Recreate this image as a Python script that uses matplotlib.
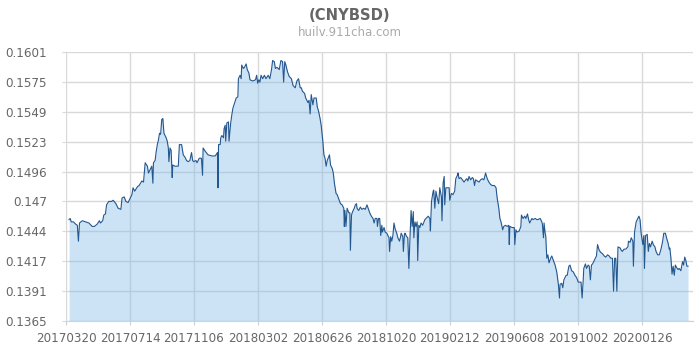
import numpy as np
import pandas as pd
import matplotlib
matplotlib.use('Agg')
import matplotlib.pyplot as plt

# day offsets from start date
start = '2017-03-20'
days = [5, 7, 9, 13, 17, 20, 22, 24, 29, 35, 41, 47, 51, 56, 60, 62, 66, 68, 71, 73,
        77, 82, 85, 90, 94, 99, 101, 105, 108, 112, 115, 119, 121, 124, 129, 132, 137, 140,
        143, 147, 149, 153, 155, 157, 158, 161, 163, 165, 167, 169, 171, 173, 175, 177,
        181, 183, 185, 186, 188, 190, 192, 193, 197, 203, 205, 209, 212, 215, 218, 221,
        224, 227, 229, 231, 235, 237, 241, 245, 247, 248, 252, 257, 264, 270, 274, 275,
        276, 279, 280, 282, 285, 286, 288, 289, 291, 294, 295, 298, 300, 302, 304, 308,
        311, 312, 315, 317, 318, 321, 323, 326, 328, 331, 333, 338, 343, 345, 347, 349,
        351, 353, 356, 359, 362, 366, 369, 372, 374, 377, 379, 382, 386, 389, 392, 394,
        396, 398, 401, 404, 408, 411, 415, 418, 421, 424, 426, 428, 432, 434, 438, 440,
        442, 444, 447, 449, 453, 455, 457, 460, 462, 465, 467, 469, 471, 473, 477, 479,
        482, 484, 486, 489, 491, 494, 497, 500, 503, 504, 505, 507, 509, 512, 514, 515,
        517, 519, 522, 524, 526, 527, 530, 533, 536, 539, 542, 545, 550, 553, 556, 558,
        560, 563, 564, 566, 568, 570, 572, 573, 576, 578, 581, 583, 585, 586, 588, 590,
        592, 594, 596, 599, 601, 604, 606, 607, 610, 611, 613, 614, 617, 619, 621, 623,
        625, 627, 629, 630, 632, 634, 636, 637, 639, 641, 643, 646, 650, 652, 656, 659,
        660, 662, 665, 666, 668, 670, 672, 675, 677, 680, 681, 683, 685, 686, 688, 694,
        695, 698, 701, 704, 706, 709, 710, 712, 715, 718, 721, 724, 726, 728, 730, 733,
        736, 738, 740, 742, 745, 748, 751, 754, 757, 760, 763, 766, 769, 772, 776, 779,
        781, 784, 786, 788, 791, 793, 796, 799, 802, 803, 804, 808, 812, 813, 815, 817,
        821, 824, 825, 828, 831, 833, 836, 838, 840, 844, 846, 850, 853, 855, 859, 862,
        863, 865, 866, 868, 869, 871, 873, 875, 878, 880, 883, 886, 889, 892, 894, 895,
        898, 900, 902, 906, 908, 911, 913, 916, 919, 922, 925, 928, 933, 935, 937, 938,
        941, 943, 946, 948, 950, 952, 954, 956, 959, 961, 963, 966, 969, 972, 975, 978,
        981, 984, 987, 990, 992, 994, 996, 998, 1000, 1004, 1006, 1008, 1011, 1014, 1018,
        1019, 1022, 1024, 1027, 1028, 1030, 1033, 1035, 1038, 1040, 1042, 1045, 1047,
        1048, 1050, 1053, 1055, 1057, 1059, 1062, 1064, 1067, 1069, 1072, 1075, 1078,
        1081, 1083, 1086, 1088, 1091, 1093, 1094, 1096, 1098, 1100, 1102, 1104, 1106,
        1109, 1111, 1114, 1117, 1119, 1121, 1123, 1125, 1127]

rates = [.1454, .1455, .1452, .1452, .1450, .1449, .1435, .1451, .1453, .1452, .1451, .1448,
         .1448, .1450, .1453, .1451, .1453, .1458, .1459, .1467, .1470, .1470, .1471, .1468,
         .1464, .1463, .1473, .1474, .1470, .1469, .1472, .1476, .1482, .1479, .1483, .1484,
         .1488, .1487, .1504, .1501, .1495, .1499, .1501, .1486, .1504, .1506, .1514, .1520,
         .1524, .1530, .1529, .1542, .1543, .1530, .1526, .1523, .1517, .1505, .1517, .1515,
         .1491, .1502, .1501, .1501, .1520, .1520, .1511, .1509, .1506, .1505, .1506, .1513,
         .1506, .1505, .1506, .1504, .1508, .1508, .1493, .1517, .1514, .1511, .1510, .1510,
         .1513, .1482, .1520, .1520, .1526, .1528, .1526, .1534, .1537, .1523, .1539, .1540,
         .1523, .1539, .1546, .1552, .1555, .1561, .1562, .1578, .1581, .1578, .1590, .1587,
         .1588, .1591, .1586, .1583, .1577, .1576, .1577, .1581, .1574, .1577, .1575, .1581,
         .1578, .1581, .1578, .1581, .1578, .1586, .1594, .1593, .1587, .1588, .1586, .1594,
         .1593, .1575, .1593, .1590, .1584, .1580, .1578, .1572, .1570, .1576, .1578, .1570,
         .1570, .1567, .1565, .1561, .1557, .1559, .1547, .1564, .1555, .1561, .1561, .1553,
         .1550, .1543, .1537, .1523, .1511, .1508, .1501, .1506, .1511, .1502, .1499, .1495,
         .1486, .1477, .1476, .1472, .1468, .1467, .1464, .1448, .1462, .1448, .1464, .1460,
         .1460, .1427, .1458, .1461, .1464, .1467, .1468, .1464, .1462, .1465, .1463, .1464,
         .1463, .1467, .1460, .1457, .1455, .1451, .1455, .1455, .1448, .1455, .1455, .1440,
         .1449, .1443, .1447, .1443, .1442, .1440, .1438, .1426, .1439, .1435, .1440, .1451,
         .1446, .1442, .1438, .1435, .1439, .1442, .1439, .1426, .1441, .1442, .1439, .1438,
         .1411, .1438, .1462, .1448, .1461, .1438, .1452, .1448, .1452, .1418, .1449, .1447,
         .1451, .1449, .1454, .1455, .1457, .1455, .1444, .1470, .1479, .1480, .1464, .1479,
         .1474, .1468, .1482, .1474, .1453, .1486, .1492, .1467, .1482, .1482, .1471, .1477,
         .1476, .1479, .1490, .1493, .1495, .1490, .1491, .1489, .1487, .1489, .1490, .1488,
         .1492, .1489, .1491, .1490, .1484, .1489, .1488, .1487, .1489, .1490, .1489, .1495,
         .1490, .1487, .1485, .1484, .1484, .1482, .1473, .1464, .1455, .1452, .1445, .1448,
         .1449, .1448, .1449, .1432, .1448, .1447, .1447, .1432, .1445, .1443, .1444, .1448,
         .1458, .1455, .1457, .1455, .1459, .1454, .1451, .1455, .1454, .1455, .1454, .1454,
         .1455, .1452, .1450, .1438, .1451, .1442, .1440, .1420, .1423, .1416, .1420, .1422,
         .1418, .1414, .1408, .1397, .1385, .1397, .1398, .1394, .1401, .1405, .1405, .1413,
         .1414, .1409, .1408, .1405, .1403, .1399, .1399, .1385, .1401, .1411, .1415, .1411,
         .1414, .1413, .1401, .1414, .1415, .1417, .1420, .1422, .1432, .1427, .1425, .1424,
         .1422, .1421, .1423, .1422, .1420, .1420, .1391, .1420, .1420, .1391, .1430, .1429,
         .1427, .1426, .1428, .1428, .1430, .1435, .1434, .1438, .1435, .1413, .1443, .1452,
         .1454, .1457, .1454, .1442, .1432, .1440, .1411, .1440, .1441, .1426, .1433, .1430,
         .1435, .1432, .1430, .1426, .1423, .1423, .1428, .1435, .1442, .1442, .1438, .1433,
         .1428, .1429, .1420, .1406, .1413, .1405, .1414, .1412, .1410, .1411, .1409, .1417,
         .1414, .1421, .1418, .1413, .1413]

xtick_labels = ['20170320', '20170714', '20171106', '20180302', '20180626',
                '20181020', '20190212', '20190608', '20191002', '20200126']
ytick_labels = ['0.1365', '0.1391', '0.1417', '0.1444', '0.147',
                '0.1496', '0.1523', '0.1549', '0.1575', '0.1601']
y_min, y_max = 0.136478, 0.160148

fig = plt.figure(figsize=(7, 3.5), dpi=100)
ax = fig.add_axes([0.0947, 0.0829, 0.8953, 0.7685])

x = np.array(days)
y = np.array(rates)
ax.fill_between(x, y, y_min, color='#80b7e6', alpha=0.4, lw=0, zorder=3)
ax.plot(x, y, color='#23578f', lw=0.8, zorder=4)

xticks = (pd.to_datetime(xtick_labels) - pd.Timestamp(start)).days * 1.8125 / 1.809
ax.set_xticks(xticks)
ax.set_xticklabels(xtick_labels)
ax.set_xlim(0, 1136)

yticks = np.linspace(y_min, y_max, 10)
ax.set_yticks(yticks)
ax.set_yticklabels(ytick_labels)
ax.set_ylim(y_min, y_max)

ax.grid(True, color='#d9d9d9', lw=1, zorder=1)
ax.set_axisbelow(True)
for side in ['top', 'right', 'left']:
    ax.spines[side].set_visible(False)
ax.spines['bottom'].set_color('#c6d4e6')
ax.spines['bottom'].set_zorder(5)
ax.tick_params(axis='x', length=3, color='#d0d0d0', pad=5,
               labelsize=8.6, labelcolor='#666666')
ax.tick_params(axis='y', length=3, color='#d9d9d9', pad=11,
               labelsize=8.6, labelcolor='#666666')

fig.text(0.5, 1 - 15 / 350., '(CNYBSD)', ha='center', va='center',
         fontsize=10.6, fontweight='bold', color='#666666')
fig.text(0.5, 1 - 32.5 / 350., 'huilv.911cha.com', ha='center', va='center',
         fontsize=8.5, color='#aaaaaa')

fig.savefig('out.png', dpi=100)
